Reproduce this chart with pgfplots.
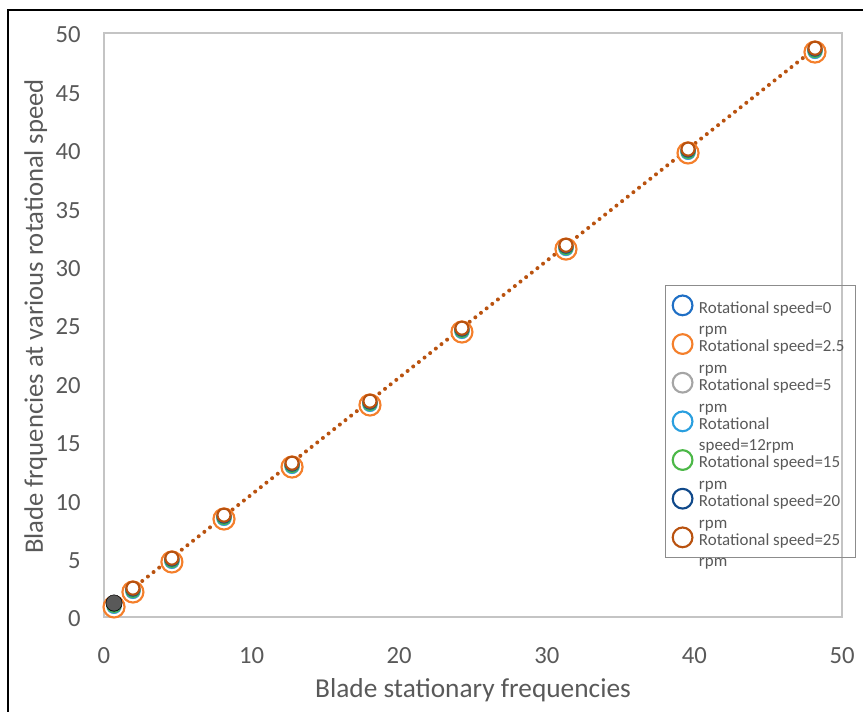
\documentclass[border=0pt]{standalone}
\usepackage{pgfplots}
\usepackage{pgfplotstable}
\pgfplotsset{compat=1.18}
\usepackage{fontspec}
\setmainfont{Carlito}

\definecolor{cBlue}{HTML}{1F6FC5}
\definecolor{cOrange}{HTML}{F47F2B}
\definecolor{cGray}{HTML}{A5A5A5}
\definecolor{cLBlue}{HTML}{2A9FDF}
\definecolor{cGreen}{HTML}{4CB848}
\definecolor{cNavy}{HTML}{10498A}
\definecolor{cRust}{HTML}{B9520F}
\definecolor{cText}{HTML}{595959}
\definecolor{cFrame}{HTML}{C4C4C4}
\definecolor{cLegend}{HTML}{8C8C8C}

% blade frequencies: stationary (x) and at each rotational speed
\pgfplotstableread{
x      r0     r2     r5     r12    r15    r20    r25
0.68   0.88   0.86   0.91   0.92   1.00   1.11   1.19
1.96   2.16   2.14   2.19   2.20   2.28   2.39   2.47
4.60   4.73   4.71   4.76   4.77   4.85   4.96   5.04
8.13   8.41   8.39   8.44   8.45   8.53   8.64   8.72
12.74  12.86  12.84  12.89  12.90  12.98  13.09  13.17
18.02  18.17  18.15  18.20  18.21  18.29  18.40  18.48
24.25  24.42  24.40  24.45  24.46  24.54  24.65  24.73
31.30  31.52  31.50  31.55  31.56  31.64  31.75  31.83
39.57  39.75  39.73  39.78  39.79  39.87  39.98  40.06
48.17  48.39  48.37  48.42  48.43  48.51  48.62  48.70
}\freq

\pgfplotsset{
  ring/.style 2 args={only marks, mark=*, mark size=#2,
    mark options={draw=#1, fill=white, line width=1.6pt},
    legend image code/.code={\draw[##1, mark size=7.4pt] plot coordinates {(0pt,0pt)};}},
}
\newcommand\lent[2]{\raisebox{-6.5pt}[0pt][0pt]{\makebox[112pt][l]{\begin{tabular}[t]{@{}l@{}}#1\\#2\end{tabular}}}}

\begin{document}
\begin{tikzpicture}
\clip (-78pt,-70.5pt) rectangle (569.25pt,462.75pt);
\begin{axis}[
  width=553.5pt, height=438pt, scale only axis,
  xmin=0, xmax=50, ymin=0, ymax=50,
  xtick={0,10,...,50}, ytick={0,5,...,50},
  major tick length=0pt,
  axis line style={cFrame, line width=1.1pt},
  clip=false,
  /pgf/number format/assume math mode=true,
  tick label style={font=\fontsize{18.5}{20}\selectfont, text=cText},
  xticklabel style={inner sep=0pt, yshift=-22.5pt},
  yticklabel style={inner sep=0pt, xshift=-17.25pt, yshift=-1.5pt},
  label style={font=\fontsize{20.5}{24}\selectfont, text=cText},
  xlabel={Blade stationary frequencies},
  ylabel={Blade frquencies at various rotational speed},
  xlabel style={at={(axis description cs:0.5,-0.137)}, anchor=base},
  ylabel style={at={(axis description cs:-0.0827,0.5146)}, anchor=base,
    font=\fontsize{20}{24}\selectfont},
  legend cell align=left,
  legend style={at={(axis description cs:0.7602,0.5685)}, anchor=north west,
    draw=cLegend, line width=0.75pt, fill=none,
    font=\fontsize{12.7}{16.3}\selectfont, text=cText,
    inner xsep=5.4pt, inner ysep=7.5pt, row sep=14.2pt, column sep=4.9pt,
    nodes={inner sep=0pt}},
]
\addplot[ring={cBlue}{4.9pt}]   table[x=x, y=r0]  {\freq};
\addlegendentry{\lent{Rotational speed=0}{rpm}}
\addplot[ring={cOrange}{7.9pt}] table[x=x, y=r2]  {\freq};
\addlegendentry{\lent{Rotational speed=2.5}{rpm}}
\addplot[ring={cGray}{4.9pt}]   table[x=x, y=r5]  {\freq};
\addlegendentry{\lent{Rotational speed=5}{rpm}}
\addplot[ring={cLBlue}{4.9pt}]  table[x=x, y=r12] {\freq};
\addlegendentry{\lent{Rotational}{speed=12rpm}}
\addplot[ring={cGreen}{4.9pt}]  table[x=x, y=r15] {\freq};
\addlegendentry{\lent{Rotational speed=15}{rpm}}
\addplot[ring={cNavy}{4.9pt}]   table[x=x, y=r20] {\freq};
\addlegendentry{\lent{Rotational speed=20}{rpm}}
\addplot[ring={cRust}{4.9pt}]   table[x=x, y=r25] {\freq};
\addlegendentry{\lent{Rotational speed=25}{rpm}}
% highlighted lowest mode
\addplot[forget plot, only marks, mark=*, mark size=6.1pt,
  mark options={draw=none, fill=cText}] coordinates {(0.68,1.20)};
% linear trendline of the 25 rpm series
\addplot[forget plot, cRust, line width=3pt, line cap=round,
  dash pattern=on 0pt off 5.4pt]
  table[x=x, y={create col/linear regression={y=r25}}] {\freq};
\end{axis}
\draw[black, line width=1.5pt] (-72pt,-80pt) -- (-72pt,455.25pt) -- (600pt,455.25pt);
\end{tikzpicture}
\end{document}
